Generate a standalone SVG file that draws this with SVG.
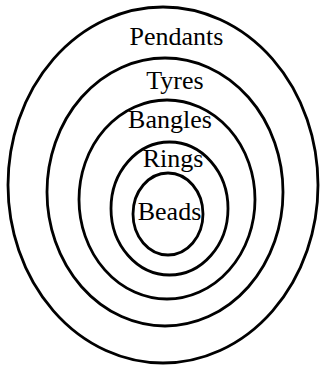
<svg xmlns="http://www.w3.org/2000/svg" width="323" height="366" viewBox="0 0 323 366">
<style>
.ring{fill:none;stroke:#000;stroke-width:2.8}
.lbl{font-family:"Liberation Serif","Times New Roman",serif;font-size:26px;fill:#000;text-anchor:middle}
</style>
<rect width="323" height="366" fill="#fff"/>
<g id="pendants"><ellipse class="ring" cx="163" cy="185" rx="155" ry="178"/><text class="lbl" x="176.5" y="45">Pendants</text></g>
<g id="tyres"><ellipse class="ring" cx="165" cy="192" rx="118" ry="134"/><text class="lbl" x="175" y="89">Tyres</text></g>
<g id="bangles"><ellipse class="ring" cx="167" cy="199.5" rx="88" ry="99.5"/><text class="lbl" x="170" y="128">Bangles</text></g>
<g id="rings"><ellipse class="ring" cx="169.5" cy="208.5" rx="58.5" ry="66.5"/><text class="lbl" x="173" y="167">Rings</text></g>
<g id="beads"><ellipse class="ring" cx="168" cy="214" rx="35" ry="41"/><text class="lbl" x="169.5" y="220">Beads</text></g>
<g id="connectors"/>
</svg>
